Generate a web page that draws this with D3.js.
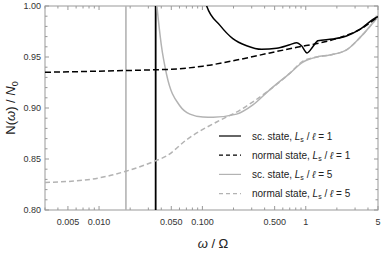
<!DOCTYPE html>
<html>
<head>
<meta charset="utf-8">
<script src="https://cdn.jsdelivr.net/npm/d3@7"></script>
<style>
  body { margin: 0; background: #fff; }
  text { font-family: "Liberation Sans", Arial, sans-serif; }
</style>
</head>
<body>
<div id="chart"></div>
<script>
// density of states, sc vs normal, two ratios Ls / l

let margin = {top: 6, right: 4, bottom: 43, left: 45}
let width = 382 - margin.left - margin.right
let height = 253 - margin.top - margin.bottom

// gap edges (vertical lines)
let gapL1 = 0.0353
let gapL5 = 0.0182

// [omega / Omega, N / N0]
let scL1 = [[0.104, 1.01], [0.110, 1.0], [0.148, 0.981], [0.197, 0.968], [0.268, 0.961], [0.374, 0.9575],
  [0.522, 0.9585], [0.70, 0.962], [0.82, 0.964], [0.91, 0.961], [1.03, 0.954], [1.17, 0.960],
  [1.31, 0.966], [1.83, 0.9676], [2.48, 0.9706], [3.34, 0.977], [4.66, 0.988], [5, 0.9895]]
let normalL1 = [[0.003, 0.935], [0.0347, 0.9375], [0.0504, 0.938], [0.101, 0.941], [0.214, 0.947],
  [0.45, 0.954], [0.82, 0.9595], [1.4, 0.964], [2.14, 0.969], [3.34, 0.977], [5, 0.9895]]
let scL5 = [[0.0355, 1.01], [0.0363, 1.0], [0.040, 0.962], [0.045, 0.933], [0.0607, 0.902],
  [0.0757, 0.894], [0.101, 0.8912], [0.127, 0.891], [0.214, 0.894], [0.308, 0.903], [0.45, 0.918],
  [0.70, 0.934], [0.94, 0.945], [1.28, 0.950], [1.71, 0.952], [2.48, 0.957], [3.34, 0.969], [5, 0.9895]]
let normalL5 = [[0.003, 0.827], [0.00817, 0.830], [0.0182, 0.838], [0.0347, 0.848], [0.0451, 0.853],
  [0.0705, 0.869], [0.148, 0.888], [0.214, 0.896], [0.308, 0.906], [0.45, 0.918], [0.70, 0.934],
  [0.94, 0.946], [1.28, 0.950], [1.71, 0.952], [2.48, 0.957], [3.34, 0.969], [5, 0.9895]]

let xMajor = [0.005, 0.01, 0.05, 0.1, 0.5, 1, 5]
let xMajorLabels = ["0.005", "0.010", "0.050", "0.100", "0.500", "1", "5"]
let xMinor = [0.003, 0.004, 0.006, 0.007, 0.008, 0.009, 0.02, 0.03, 0.04, 0.06, 0.07, 0.08, 0.09,
  0.2, 0.3, 0.4, 0.6, 0.7, 0.8, 0.9, 2, 3, 4]
let yMajor = [0.80, 0.85, 0.90, 0.95, 1.00]
let yMinor = d3.range(80, 101).map(d => d / 100).filter(d => Math.round(d * 100) % 5 != 0)

let legendNames = ["sc. state, ", "normal state, ", "sc. state, ", "normal state, "]
let legendRatios = ["1", "1", "5", "5"]

let svg = d3.select('#chart')
    .append('svg')
    .attr("width", width + margin.left + margin.right)
    .attr("height", height + margin.top + margin.bottom)
    .append("g")
    .attr("transform", `translate(${margin.left},${margin.top})`)

let x = d3.scaleLog().domain([0.003, 5]).range([0, width])
let y = d3.scaleLinear().domain([0.80, 1.00]).range([height, 0])

svg.append("clipPath").attr("id", "clip")
    .append("rect").attr("width", width).attr("height", height)

let frameColor = "#999"

// ticks inward on all four sides
function addTicks(vals, len, isX) {
    vals.forEach(v => {
        if (isX) {
            let px = x(v)
            svg.append("line").attr("x1", px).attr("x2", px).attr("y1", height).attr("y2", height - len).attr("stroke", frameColor)
            svg.append("line").attr("x1", px).attr("x2", px).attr("y1", 0).attr("y2", len).attr("stroke", frameColor)
        } else {
            let py = y(v)
            svg.append("line").attr("x1", 0).attr("x2", len).attr("y1", py).attr("y2", py).attr("stroke", frameColor)
            svg.append("line").attr("x1", width).attr("x2", width - len).attr("y1", py).attr("y2", py).attr("stroke", frameColor)
        }
    })
}
addTicks(xMajor, 4, true)
addTicks(xMinor, 2.5, true)
addTicks(yMajor, 4, false)
addTicks(yMinor, 2.5, false)

svg.append("rect").attr("width", width).attr("height", height)
    .attr("fill", "none").attr("stroke", frameColor).attr("stroke-width", 1)

svg.selectAll(".xlab").data(xMajor).enter().append("text")
    .attr("x", d => x(d)).attr("y", height + 15)
    .attr("text-anchor", "middle").attr("font-size", 9).attr("fill", "#333")
    .text((d, i) => xMajorLabels[i])

svg.selectAll(".ylab").data(yMajor).enter().append("text")
    .attr("x", -4).attr("y", d => y(d) + 3)
    .attr("text-anchor", "end").attr("font-size", 9).attr("fill", "#333")
    .text(d => d.toFixed(2))

// axis titles
let xt = svg.append("text").attr("x", 168).attr("y", height + 38)
    .attr("text-anchor", "middle").attr("font-size", 13).attr("fill", "#222")
xt.append("tspan").attr("font-style", "italic").text("ω")
xt.append("tspan").text(" / Ω")

let yt = svg.append("text").attr("transform", `translate(-30,${height / 2}) rotate(-90)`)
    .attr("text-anchor", "middle").attr("font-size", 13).attr("fill", "#222")
yt.append("tspan").text("N(")
yt.append("tspan").attr("font-style", "italic").text("ω")
yt.append("tspan").text(") / ")
yt.append("tspan").attr("font-style", "italic").text("N")
yt.append("tspan").attr("font-size", 9).attr("dy", 3).text("0")

let line = d3.line().x(d => x(d[0])).y(d => y(d[1])).curve(d3.curveMonotoneX)

let plot = svg.append("g").attr("clip-path", "url(#clip)")

let gray = "#b3b3b3"
let series = [
    {data: normalL5, color: gray, dash: "5,3", w: 1.5},
    {data: scL5, color: gray, dash: null, w: 1.5},
    {data: normalL1, color: "#000", dash: "6,3", w: 1.5},
    {data: scL1, color: "#000", dash: null, w: 1.5}
]

plot.append("line").attr("x1", x(gapL5)).attr("x2", x(gapL5)).attr("y1", y(0.80)).attr("y2", y(1.00))
    .attr("stroke", gray).attr("stroke-width", 1.6)
plot.append("line").attr("x1", x(gapL1)).attr("x2", x(gapL1)).attr("y1", y(0.80)).attr("y2", y(1.00))
    .attr("stroke", "#000").attr("stroke-width", 1.8)

series.forEach(s => {
    plot.append("path").datum(s.data)
        .attr("d", line)
        .attr("fill", "none")
        .attr("stroke", s.color)
        .attr("stroke-width", s.w)
        .attr("stroke-dasharray", s.dash)
})

// legend
let legStyles = [
    {color: "#000", dash: null},
    {color: "#000", dash: "4,3"},
    {color: gray, dash: null},
    {color: gray, dash: "4,3"}
]
let leg = svg.append("g").attr("transform", "translate(174,130)")
legendNames.forEach((name, i) => {
    let g = leg.append("g").attr("transform", `translate(0,${i * 19.2})`)
    g.append("line").attr("x1", 0).attr("x2", 22).attr("y1", 0).attr("y2", 0)
        .attr("stroke", legStyles[i].color).attr("stroke-width", 1.2)
        .attr("stroke-dasharray", legStyles[i].dash)
    let t = g.append("text").attr("x", 33).attr("y", 3.5).attr("font-size", 10).attr("fill", "#222")
    t.append("tspan").text(name)
    t.append("tspan").attr("font-style", "italic").text("L")
    t.append("tspan").attr("font-size", 7).attr("dy", 2).text("s")
    t.append("tspan").attr("dy", -2).text(" / ")
    t.append("tspan").attr("font-style", "italic").text("ℓ")
    t.append("tspan").text(" = " + legendRatios[i])
})
</script>
</body>
</html>
